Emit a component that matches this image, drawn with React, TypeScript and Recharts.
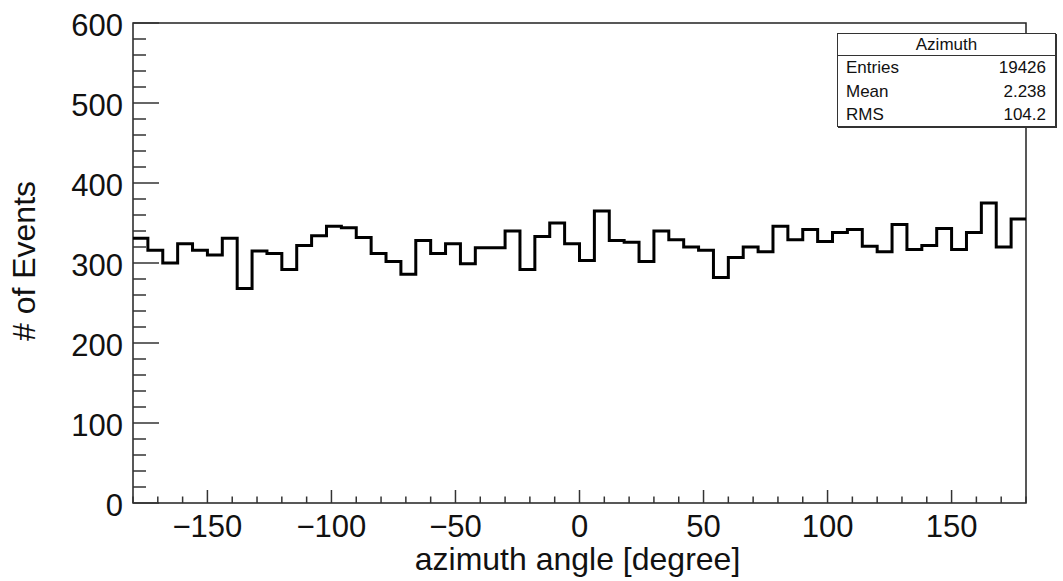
import { ComposedChart, Line, XAxis, YAxis, ReferenceArea } from 'recharts';

// azimuth histogram, 60 bins of 6 degrees from -180 to 180
const binLow = -180;
const binWidth = 6;
const counts = [
  331, 316, 300, 324, 316, 310, 331, 268, 315, 312, 292, 322, 334, 346, 344,
  332, 312, 302, 286, 328, 312, 324, 299, 319, 319, 340, 292, 333, 350, 324,
  303, 365, 328, 326, 302, 340, 329, 320, 316, 282, 307, 320, 314, 346, 329,
  342, 327, 338, 342, 321, 314, 348, 317, 322, 343, 317, 338, 375, 320, 355,
];

const xLabels = [-150, -100, -50, 0, 50, 100, 150];
const yLabels = [0, 100, 200, 300, 400, 500, 600];
const xMinorStep = 10;
const yMinorStep = 20;

const xTitle = 'azimuth angle [degree]';
const yTitle = '# of Events';

const statsTitle = 'Azimuth';
const statsNames = ['Entries', 'Mean', 'RMS'];
const statsValues = ['19426', '2.238', '104.2'];

const FONT = '"Liberation Sans", Arial, Helvetica, sans-serif';

const data = counts.map((c, i) => ({ x: binLow + i * binWidth, count: c }));
// close the last step at the right edge
data.push({ x: binLow + counts.length * binWidth, count: counts[counts.length - 1] });

const xTicks: number[] = [];
for (let v = -180; v <= 180; v += xMinorStep) xTicks.push(v);
const yTicks: number[] = [];
for (let v = 0; v <= 600; v += yMinorStep) yTicks.push(v);

const fmt = (v: number) => (v < 0 ? '\u2212' + Math.abs(v) : String(v));

function XTick(props: any) {
  const { x, y, payload } = props;
  const major = xLabels.includes(payload.value);
  return (
    <g>
      <line x1={x} x2={x} y1={y} y2={y - (major ? 13 : 6.5)} stroke="#333" strokeWidth={1.5} />
      {major && (
        <text x={x} y={y + 34} textAnchor="middle" fontSize={31} fontFamily={FONT} fill="#111">
          {fmt(payload.value)}
        </text>
      )}
    </g>
  );
}

function YTick(props: any) {
  const { x, y, payload } = props;
  const major = yLabels.includes(payload.value);
  return (
    <g>
      <line x1={x} x2={x + (major ? 26 : 13)} y1={y} y2={y} stroke="#333" strokeWidth={1.5} />
      {major && (
        <text x={x - 10} y={y + 13} textAnchor="end" fontSize={31} fontFamily={FONT} fill="#111">
          {payload.value}
        </text>
      )}
    </g>
  );
}

function StatsBox() {
  return (
    <div
      style={{
        position: 'absolute',
        left: 837,
        top: 33,
        width: 219,
        height: 94,
        border: '1.5px solid #333',
        boxShadow: '1px 1px 0 #333',
        background: '#fff',
        fontFamily: FONT,
        fontSize: 17,
        color: '#111',
        boxSizing: 'border-box',
      }}
    >
      <div style={{ height: 21, lineHeight: '22px', textAlign: 'center', borderBottom: '1.5px solid #333' }}>
        {statsTitle}
      </div>
      {statsNames.map((n, i) => (
        <div
          key={n}
          style={{ display: 'flex', justifyContent: 'space-between', padding: '0 9px 0 8px', height: 23.5, lineHeight: '24px' }}
        >
          <span>{n}</span>
          <span>{statsValues[i]}</span>
        </div>
      ))}
    </div>
  );
}

export default function App() {
  return (
    <div style={{ position: 'absolute', left: 0, top: 0, width: 1063, height: 581, background: '#fff' }}>
      <ComposedChart width={1063} height={581} data={data} margin={{ top: 23, right: 37, bottom: 0, left: 33 }}>
        <XAxis
          dataKey="x"
          type="number"
          domain={[-180, 180]}
          ticks={xTicks}
          interval={0}
          tick={<XTick />}
          tickSize={0}
          tickMargin={0}
          tickLine={false}
          axisLine={false}
          height={78}
          label={{
            content: (p: any) => {
              const vb = p.viewBox;
              return (
                <text x={vb.x + vb.width / 2 - 2} y={vb.y + vb.height - 11} textAnchor="middle" fontSize={32} fontFamily={FONT} fill="#111">
                  {xTitle}
                </text>
              );
            },
          }}
        />
        <YAxis
          type="number"
          domain={[0, 600]}
          ticks={yTicks}
          interval={0}
          tick={<YTick />}
          tickSize={0}
          tickMargin={0}
          tickLine={false}
          axisLine={false}
          width={100}
          label={{
            content: (p: any) => {
              const vb = p.viewBox;
              const cx = 35;
              const cy = vb.y + vb.height / 2 - 2;
              return (
                <text x={cx} y={cy} transform={`rotate(-90 ${cx} ${cy})`} textAnchor="middle" fontSize={32} fontFamily={FONT} fill="#111">
                  {yTitle}
                </text>
              );
            },
          }}
        />
        <ReferenceArea x1={-180} x2={180} y1={0} y2={600} fill="none" stroke="#222" strokeWidth={1.5} />
        <Line
          dataKey="count"
          type="stepAfter"
          stroke="#000"
          strokeWidth={3}
          dot={false}
          activeDot={false}
          strokeLinejoin="miter"
          isAnimationActive={false}
        />
      </ComposedChart>
      <StatsBox />
    </div>
  );
}
